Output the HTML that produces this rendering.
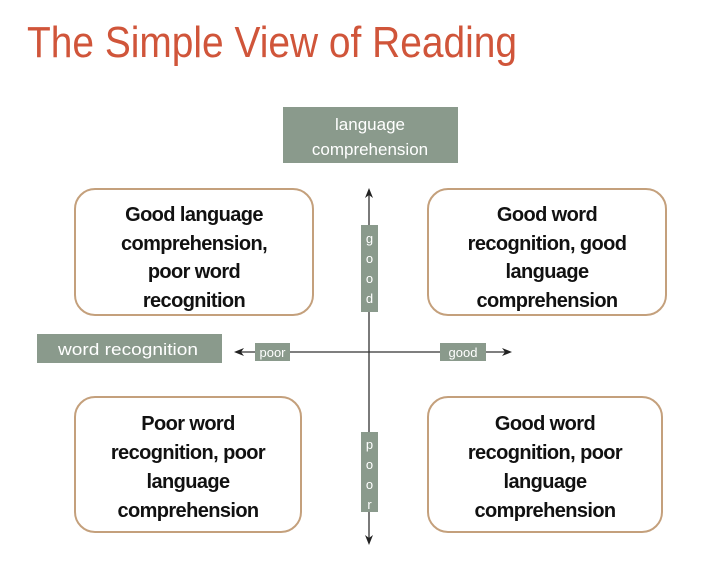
<!DOCTYPE html>
<html><head><style>
html,body{margin:0;padding:0;background:#fff;}
svg{display:block;}
</style></head><body>
<svg width="703" height="566" xmlns="http://www.w3.org/2000/svg" font-family="Liberation Sans, sans-serif">
<rect width="703" height="566" fill="#fff"/>
<text x="27" y="57" font-size="44" fill="#d0553a" textLength="490" lengthAdjust="spacingAndGlyphs">The Simple View of Reading</text>

<rect x="283" y="107" width="175" height="56" fill="#8a9a8c"/>
<text x="370" y="130" font-size="17" fill="#fff" text-anchor="middle">language</text>
<text x="370" y="155" font-size="17" fill="#fff" text-anchor="middle">comprehension</text>

<rect x="37" y="334" width="185" height="29" fill="#8a9a8c"/>
<text x="128" y="355" font-size="17" fill="#fff" text-anchor="middle" textLength="140" lengthAdjust="spacingAndGlyphs">word recognition</text>

<g fill="none" stroke="#c4a07c" stroke-width="2">
<rect x="75" y="189" width="238" height="126" rx="20"/>
<rect x="428" y="189" width="238" height="126" rx="20"/>
<rect x="75" y="397" width="226" height="135" rx="20"/>
<rect x="428" y="397" width="234" height="135" rx="20"/>
</g>

<g stroke="#333" stroke-width="1.3">
<line x1="369" y1="192" x2="369" y2="540"/>
<line x1="240" y1="352" x2="506" y2="352"/>
</g>
<g fill="#222">
<path d="M369 188 L365 198 L369 195 L373 198 Z"/>
<path d="M369 545 L365 535 L369 538 L373 535 Z"/>
<path d="M234 352 L244 348 L241 352 L244 356 Z"/>
<path d="M512 352 L502 348 L505 352 L502 356 Z"/>
</g>

<rect x="361" y="225" width="17" height="87" fill="#8a9a8c"/>
<g font-size="13" fill="#fff" text-anchor="middle">
<text x="369.5" y="243">g</text><text x="369.5" y="263">o</text><text x="369.5" y="283">o</text><text x="369.5" y="303">d</text>
</g>
<rect x="361" y="432" width="17" height="80" fill="#8a9a8c"/>
<g font-size="13" fill="#fff" text-anchor="middle">
<text x="369.5" y="449">p</text><text x="369.5" y="469">o</text><text x="369.5" y="489">o</text><text x="369.5" y="509">r</text>
</g>
<rect x="255" y="343" width="35" height="18" fill="#8a9a8c"/>
<text x="272.5" y="357" font-size="13" fill="#fff" text-anchor="middle">poor</text>
<rect x="440" y="343" width="46" height="18" fill="#8a9a8c"/>
<text x="463" y="357" font-size="13" fill="#fff" text-anchor="middle">good</text>

<g font-size="20" font-weight="bold" fill="#111" text-anchor="middle" letter-spacing="-0.6">
<text x="194" y="221">Good language</text>
<text x="194" y="250">comprehension,</text>
<text x="194" y="278">poor word</text>
<text x="194" y="307">recognition</text>

<text x="547" y="221">Good word</text>
<text x="547" y="250">recognition, good</text>
<text x="547" y="278">language</text>
<text x="547" y="307">comprehension</text>

<text x="188" y="430">Poor word</text>
<text x="188" y="459">recognition, poor</text>
<text x="188" y="488">language</text>
<text x="188" y="517">comprehension</text>

<text x="545" y="430">Good word</text>
<text x="545" y="459">recognition, poor</text>
<text x="545" y="488">language</text>
<text x="545" y="517">comprehension</text>
</g>
</svg>
</body></html>
